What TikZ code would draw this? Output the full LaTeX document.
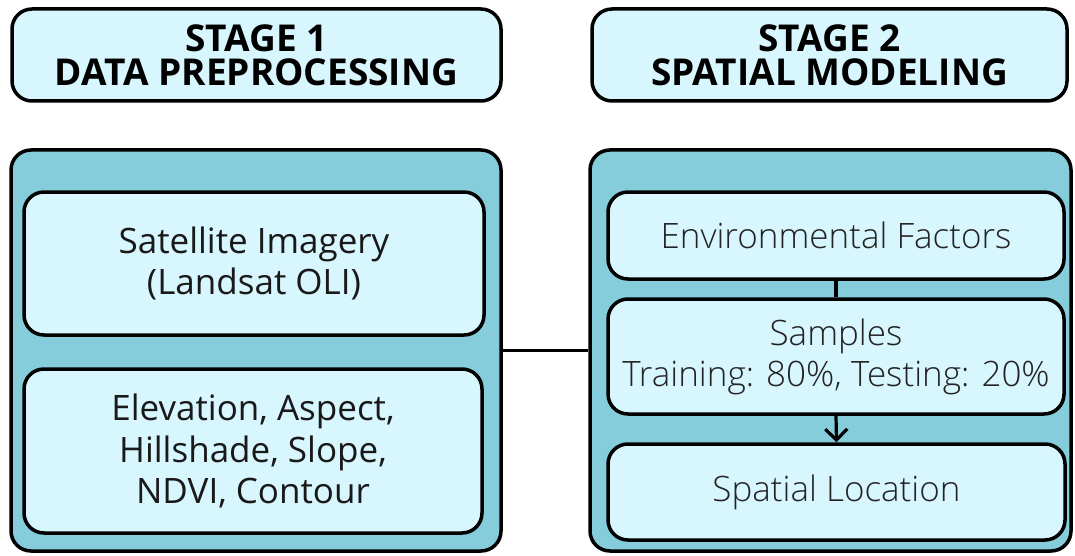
\documentclass[tikz,border=0pt]{standalone}
\usepackage{fontspec}
\setmainfont{Open Sans}
\newfontfamily\lightfont{Open Sans Light}
\usetikzlibrary{arrows.meta}
\definecolor{paleblue}{RGB}{215,246,253}
\definecolor{panelblue}{RGB}{134,205,220}
\definecolor{textgrey}{RGB}{35,35,35}
\tikzset{
  box/.style={draw=black, line width=3.5pt, rounded corners=20pt, inner sep=0pt, align=center},
  header/.style={box, fill=paleblue, font=\bfseries\fontsize{37}{34}\selectfont},
  panel/.style={box, fill=panelblue},
  itembox/.style={box, fill=paleblue, font=\fontsize{35}{41.7}\selectfont, text=black!90},
  lightbox/.style={box, fill=paleblue, font=\lightfont\fontsize{35}{41}\selectfont, text=textgrey},
  link/.style={line width=3.2pt},
}
\begin{document}
\begin{tikzpicture}[x=1pt, y=-1pt]
\useasboundingbox (0,0) rectangle (1075,556);

% stage headers
\node[header, minimum width=489pt, minimum height=92pt] (h1) at (256.5,55) {STAGE 1\\DATA PREPROCESSING};
\node[header, minimum width=475pt, minimum height=92pt] (h2) at (829.5,55) {STAGE 2\\SPATIAL MODELING};

% stage panels
\node[panel, minimum width=490pt, minimum height=401pt] (p1) at (256,350.5) {};
\node[panel, minimum width=481pt, minimum height=401pt] (p2) at (830.5,350.5) {};

% stage 1 contents
\node[itembox, minimum width=460pt, minimum height=143pt] (sat) at (254,263.5) {Satellite Imagery\\(Landsat OLI)};
\node[itembox, minimum width=458pt, minimum height=164pt] (dem) at (253,451) {Elevation, Aspect,\\Hillshade, Slope,\\NDVI, Contour};

% stage 2 contents
\node[lightbox, minimum width=456pt, minimum height=87pt] (env) at (836,235.5) {Environmental Factors};
\node[lightbox, minimum width=456pt, minimum height=115pt] (smp) at (836,356.5) {Samples\\Training: 80\%, Testing: 20\%};
\node[lightbox, minimum width=457pt, minimum height=96pt] (loc) at (836.5,492) {Spatial Location};

% connectors
\draw[link] (p1.east) -- (p2.west);
\draw[link] (env.south) -- (smp.north);
\draw[link, -{Straight Barb[length=11pt, width=22pt]}] (smp.south) -- (loc.north);
\end{tikzpicture}
\end{document}
